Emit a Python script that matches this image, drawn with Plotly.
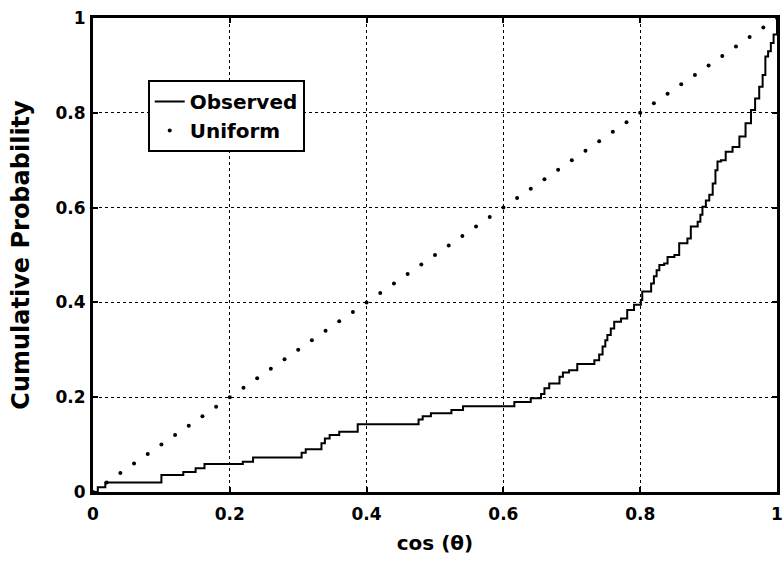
import plotly.graph_objects as go

# Observed empirical CDF (step points: value after the step at each x)
obs_x = [0, 0.007, 0.018, 0.10, 0.132, 0.150, 0.163, 0.219, 0.234, 0.305, 0.311,
         0.334, 0.339, 0.346, 0.36, 0.387, 0.476, 0.482, 0.494, 0.524, 0.541,
         0.616, 0.640, 0.655, 0.660, 0.667, 0.682, 0.687, 0.696, 0.708, 0.733,
         0.740, 0.745, 0.749, 0.752, 0.757, 0.762, 0.772, 0.781, 0.791, 0.801,
         0.803, 0.816, 0.820, 0.824, 0.828, 0.835, 0.840, 0.850, 0.857, 0.869,
         0.874, 0.884, 0.888, 0.891, 0.896, 0.901, 0.906, 0.910, 0.913, 0.918,
         0.925, 0.935, 0.945, 0.954, 0.962, 0.968, 0.974, 0.979, 0.983, 0.987,
         0.991, 0.995, 1.0]
obs_y = [0, 0.01, 0.02, 0.036, 0.042, 0.05, 0.059, 0.064, 0.073, 0.083, 0.09,
         0.103, 0.113, 0.12, 0.127, 0.143, 0.153, 0.160, 0.166, 0.173, 0.181,
         0.19, 0.198, 0.207, 0.219, 0.229, 0.243, 0.252, 0.257, 0.27, 0.278,
         0.29, 0.307, 0.32, 0.331, 0.345, 0.359, 0.366, 0.384, 0.395, 0.405,
         0.423, 0.44, 0.455, 0.468, 0.479, 0.482, 0.496, 0.50, 0.525, 0.535,
         0.56, 0.57, 0.585, 0.602, 0.615, 0.627, 0.651, 0.679, 0.697, 0.700,
         0.718, 0.728, 0.75, 0.778, 0.806, 0.83, 0.855, 0.88, 0.919, 0.93,
         0.947, 0.965, 1.0]

# Uniform reference CDF
uni_x = [0.00, 0.02, 0.04, 0.06, 0.08, 0.10, 0.12, 0.14, 0.16, 0.18, 0.20,
         0.22, 0.24, 0.26, 0.28, 0.30, 0.32, 0.34, 0.36, 0.38, 0.40,
         0.42, 0.44, 0.46, 0.48, 0.50, 0.52, 0.54, 0.56, 0.58, 0.60,
         0.62, 0.64, 0.66, 0.68, 0.70, 0.72, 0.74, 0.76, 0.78, 0.80,
         0.82, 0.84, 0.86, 0.88, 0.90, 0.92, 0.94, 0.96, 0.98, 1.00]
uni_y = list(uni_x)

tick_vals = [0, 0.2, 0.4, 0.6, 0.8, 1]
tick_text = ["0", "0.2", "0.4", "0.6", "0.8", "1"]

FONT = "DejaVu Sans, sans-serif"

fig = go.Figure()
fig.add_trace(go.Scatter(x=obs_x, y=obs_y, mode="lines", name="Observed",
                         line=dict(color="black", width=2, shape="hv")))
fig.add_trace(go.Scatter(x=uni_x, y=uni_y, mode="markers", name="Uniform",
                         marker=dict(color="black", size=4)))

axis_common = dict(
    range=[0, 1], tickvals=tick_vals, ticktext=tick_text,
    showgrid=True, gridcolor="black", gridwidth=1, griddash="dot",
    showline=True, linecolor="black", linewidth=3, mirror="ticks",
    ticks="inside", ticklen=5, tickwidth=2, tickcolor="black",
    zeroline=False, automargin=False, ticklabeloverflow="allow",
    tickfont=dict(family=FONT, size=17, color="black", weight="bold"),
)

fig.update_xaxes(**axis_common, ticklabelstandoff=5,
                 title=dict(text="cos (θ)", standoff=13,
                            font=dict(family=FONT, size=20, color="black", weight="bold")))
fig.update_yaxes(**axis_common, ticklabelstandoff=1,
                 title=dict(text="Cumulative Probability", standoff=20,
                            font=dict(family=FONT, size=24, color="black", weight="bold")))

fig.update_layout(
    width=783, height=564,
    margin=dict(l=93, r=6, t=18, b=72),
    paper_bgcolor="white", plot_bgcolor="white",
    showlegend=True,
    legend=dict(x=0.08, y=0.869, xanchor="left", yanchor="top",
                bgcolor="white", bordercolor="black", borderwidth=2,
                font=dict(family=FONT, size=20, color="black", weight="bold"),
                tracegroupgap=0),
)

fig.write_html(
    "out.html",
    config={"displayModeBar": False},
    post_script="document.body.style.margin='0';document.body.style.overflow='hidden';",
)
